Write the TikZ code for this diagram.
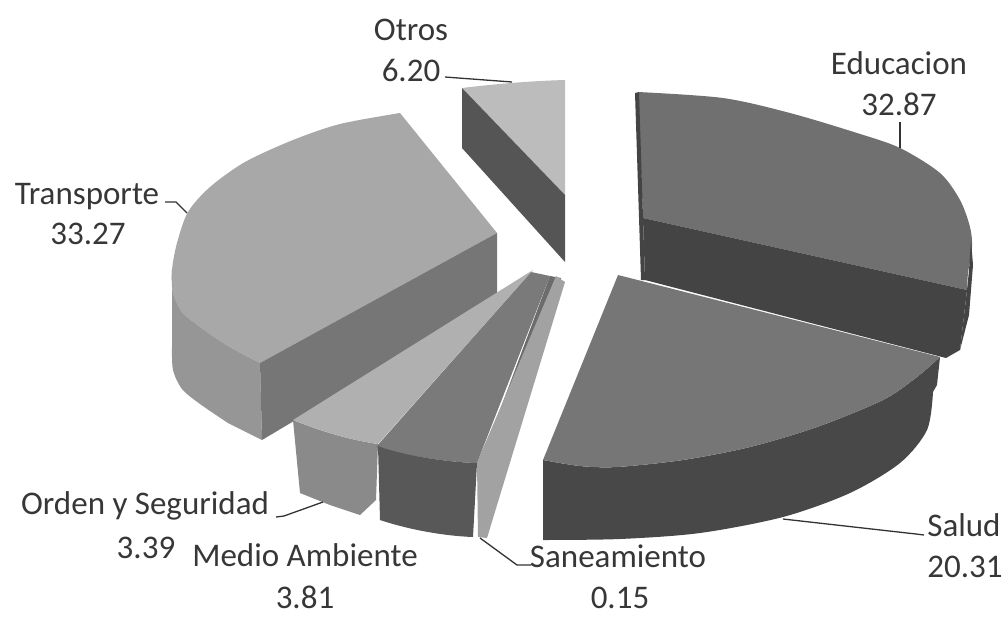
\documentclass[tikz,border=0pt]{standalone}
\usepackage{fontspec}
\setmainfont{Carlito}
\definecolor{txt}{RGB}{55,55,55}
\definecolor{otrosTop}{RGB}{188,188,188}
\definecolor{otrosBand}{RGB}{85,85,85}
\definecolor{transTop}{RGB}{168,168,168}
\definecolor{transBand}{RGB}{118,118,118}
\definecolor{transSide}{RGB}{150,150,150}
\definecolor{eduTop}{RGB}{112,112,112}
\definecolor{eduBand}{RGB}{68,68,68}
\definecolor{saludTop}{RGB}{118,118,118}
\definecolor{saludSide}{RGB}{72,72,72}
\definecolor{ordenTop}{RGB}{176,176,176}
\definecolor{ordenSide}{RGB}{138,138,138}
\definecolor{medioTop}{RGB}{122,122,122}
\definecolor{medioFace}{RGB}{108,108,108}
\definecolor{medioSide}{RGB}{88,88,88}
\definecolor{saneFace}{RGB}{162,162,162}
\begin{document}
\begin{tikzpicture}[x=1pt,y=-1pt,
  lbl/.style={font=\fontsize{33}{40}\selectfont, text=txt, anchor=base, inner sep=0pt},
  leader/.style={draw=black!80, line width=1.3pt, line join=round}]
\useasboundingbox (0,0) rectangle (1008,619);

% ---------- Otros ----------
\fill[otrosTop] (565,195) -- (565,80) .. controls (530,81) and (495,84) .. (462,88) -- cycle;
\fill[otrosBand] (462,88) -- (565,195) -- (565,262) -- (462,148) -- cycle;

% ---------- Educacion ----------
\fill[eduTop] (643,218) -- plot[smooth] coordinates {(638,92) (723,98) (790,113) (857,133) (900,148) (940,173) (960,200) (970,227) (972,247) (968,273) (967,290)} -- cycle;
\fill[eduBand] (643,218) -- (967,290) -- (960,350) -- (946,358) -- (645,280) -- cycle;
\fill[eduBand] (971,240) -- (973,265) -- (969,315) -- (960,350) -- (967,290) -- (969,270) -- cycle;
\fill[eduBand] (635,93) -- (639,92) -- (645,280) -- (641,280) -- cycle;

% ---------- Transporte ----------
\fill[transTop] (497,233) -- plot[smooth] coordinates {(400,113) (340,124) (293,140) (245,162) (210,187) (188,212) (177,243) (172,270) (173,293) (182,312) (200,327) (228,346) (260,363)} -- cycle;
\fill[transSide] plot[smooth] coordinates {(172,270) (173,293) (182,312) (200,327) (228,346) (260,363)} -- (262,440) -- plot[smooth] coordinates {(228,423) (200,404) (182,389) (173,370) (172,347)} -- cycle;
\fill[transBand] (260,363) -- (497,233) -- (497,300) -- (262,440) -- cycle;

% ---------- Orden y Seguridad (side) ----------
\fill[ordenSide] (293,420) .. controls (320,431) and (350,440) .. (378,444) -- (376,500) -- (360,515) -- (330,505) -- (300,493) -- cycle;

% ---------- Medio Ambiente ----------
\fill[medioTop] (376,447) -- (531,272) -- (550,276) -- (477,463) .. controls (440,462) and (395,453) .. (376,447) -- cycle;
\fill[medioFace] (500,410) -- (550,276) -- (561,278) -- (485,482) -- (477,463) -- cycle;
\fill[medioSide] (378,446) .. controls (395,453) and (440,462) .. (477,463) -- (473,537) .. controls (445,536) and (410,530) .. (380,520) -- cycle;

% ---------- Orden y Seguridad (top) ----------
\fill[ordenTop] (533,270) -- (293,420) .. controls (320,431) and (350,440) .. (378,444) -- cycle;

% ---------- Saneamiento ----------
\fill[saneFace] (477,463) -- (556,276) -- (565,282) -- (487,538) -- (478,537) -- cycle;

% ---------- Salud ----------
\fill[saludSide] plot[smooth] coordinates {(543,460) (580,466) (617,467) (683,460) (750,447) (817,427) (883,400) (917,377) (940,357)} -- (937,385) -- plot[smooth] coordinates {(933,392) (927,430) (900,463) (850,493) (783,517) (700,533) (620,539) (543,540)} -- cycle;
\fill[saludTop] (618,275) -- plot[smooth] coordinates {(543,460) (580,466) (617,467) (683,460) (750,447) (817,427) (883,400) (917,377) (940,357)} -- cycle;

% ---------- Labels ----------
\node[lbl] (otrosN) at (411,40) {Otros};
\node[lbl] (otrosV) at (411,81) {6.20};
\node[lbl] (eduN) at (899,74) {Educacion};
\node[lbl] (eduV) at (899,115) {32.87};
\node[lbl] (transN) at (87,204) {Transporte};
\node[lbl] (transV) at (88,244) {33.27};
\node[lbl] (ordenN) at (145,514) {Orden y Seguridad};
\node[lbl] (ordenV) at (146,558) {3.39};
\node[lbl] (medioN) at (305,566) {Medio Ambiente};
\node[lbl] (medioV) at (305,608) {3.81};
\node[lbl] (saneN) at (618,567) {Saneamiento};
\node[lbl] (saneV) at (620,608) {0.15};
\node[lbl] (saludN) at (964,536) {Salud};
\node[lbl] (saludV) at (965,577) {20.31};

% ---------- Leaders ----------
\coordinate (otrosA) at (445,77);
\coordinate (otrosB) at (512,82);
\draw[leader] (otrosA) -- (otrosB);
\coordinate (eduA) at (900,122);
\coordinate (eduB) at (900,148);
\draw[leader] (eduA) -- (eduB);
\coordinate (transA) at (165,202);
\coordinate (transB) at (187,213);
\draw[leader] (transA) -- ++(11,0) -- (transB);
\coordinate (ordenA) at (276,517);
\coordinate (ordenB) at (323,502);
\draw[leader] (ordenA) -- ++(8,-1) -- (ordenB);
\coordinate (saneA) at (531,565);
\coordinate (saneB) at (480,538);
\draw[leader] (saneA) -- ++(-14,0) -- (saneB);
\coordinate (saludA) at (924,535);
\coordinate (saludB) at (783,519);
\draw[leader] (saludA) -- ++(-8,-1) -- (saludB);
\end{tikzpicture}
\end{document}
